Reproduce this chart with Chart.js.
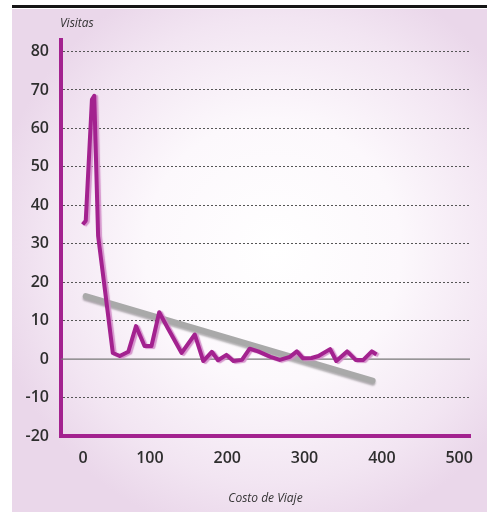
<!DOCTYPE html>
<html>
<head>
<meta charset="utf-8">
<script src="https://cdn.jsdelivr.net/npm/chart.js@4.4.1/dist/chart.umd.min.js"></script>
<style>
  html, body { margin: 0; padding: 0; background: #fff; }
  #panel {
    position: absolute; left: 12px; top: 9px; width: 475px; height: 503px;
    background: radial-gradient(ellipse 60% 58% at 55% 48%, #ffffff 0%, #fcf8fc 45%, #f2e5f2 80%, #ead7ea 100%);
  }
  #barra { position: absolute; left: 12px; top: 5px; width: 475px; height: 3px; background: #161616; }
  #wrap { position: absolute; left: 0; top: 0; width: 487px; height: 512px; }
</style>
</head>
<body>
<div id="barra"></div>
<div id="panel"></div>
<div id="wrap"><canvas id="grafico"></canvas></div>
<script>
// Costo de viaje (eje x) y visitas (eje y)
const costo = [13, 17, 25, 28, 33, 41.5, 52, 61, 72, 82, 93, 102, 112, 123, 141, 158, 169, 180, 188, 199, 208, 219, 229, 240, 256, 268, 281, 290, 298, 309, 318, 333, 341, 355, 366, 376, 387, 393];
const visitas = [35, 36, 67.5, 68.5, 32, 18.5, 1.6, 0.8, 1.9, 8.6, 3.4, 3.4, 12.2, 8.1, 1.6, 6.4, -0.5, 1.9, -0.3, 1.1, -0.5, -0.2, 2.7, 2, 0.6, -0.2, 0.6, 2, 0.2, 0.3, 0.8, 2.6, -0.5, 2, -0.2, -0.2, 2, 1.2];
// Línea de tendencia
const tendX = [17, 388];
const tendY = [16.4, -5.6];
const ticksX = [0, 100, 200, 300, 400, 500];
const ticksY = [-20, -10, 0, 10, 20, 30, 40, 50, 60, 70, 80];

const MAGENTA = '#a3228f';

const sombra = {
  id: 'sombra',
  beforeDatasetDraw(chart, args) {
    const ctx = chart.ctx;
    ctx.save();
    if (args.index === 0) {
      ctx.shadowColor = 'rgba(210,140,200,0.9)';
      ctx.shadowOffsetX = 2;
      ctx.shadowOffsetY = 1;
      ctx.shadowBlur = 1;
    } else {
      ctx.shadowColor = 'rgba(0,0,0,0.3)';
      ctx.shadowOffsetY = 2;
      ctx.shadowBlur = 2;
    }
  },
  afterDatasetDraw(chart) {
    chart.ctx.restore();
  }
};

// linea del cero y texto "Visitas"
const extras = {
  id: 'extras',
  beforeDatasetsDraw(chart) {
    const ctx = chart.ctx;
    const y = chart.scales.y.getPixelForValue(0);
    ctx.save();
    ctx.strokeStyle = '#777';
    ctx.lineWidth = 1.2;
    ctx.beginPath();
    ctx.moveTo(chart.chartArea.left, y);
    ctx.lineTo(chart.chartArea.right, y);
    ctx.stroke();
    ctx.restore();
  },
  afterDraw(chart) {
    const ctx = chart.ctx;
    ctx.save();
    ctx.fillStyle = '#333';
    ctx.font = 'italic 12px "Open Sans"';
    ctx.textBaseline = 'middle';
    ctx.fillText('Visitas', 60, 24);
    ctx.restore();
  }
};

new Chart(document.getElementById('grafico'), {
  type: 'line',
  data: {
    datasets: [{
      data: costo.map((c, i) => ({x: c, y: visitas[i]})),
      borderColor: MAGENTA,
      borderWidth: 4,
      pointRadius: 0,
      tension: 0,
      borderJoinStyle: 'round'
    }, {
      data: tendX.map((c, i) => ({x: c, y: tendY[i]})),
      borderColor: '#a9a9a9',
      borderWidth: 6,
      borderCapStyle: 'round',
      pointRadius: 0
    }]
  },
  options: {
    responsive: true,
    maintainAspectRatio: false,
    animation: false,
    layout: { padding: { top: 40, right: 17, left: 0, bottom: 0 } },
    plugins: { legend: { display: false }, tooltip: { enabled: false } },
    scales: {
      x: {
        type: 'linear',
        min: -15,
        max: 514,
        afterBuildTicks: s => { s.ticks = ticksX.map(v => ({value: v})); },
        afterFit: s => { s.height = 76; },
        grid: { display: false, drawTicks: false },
        border: { color: MAGENTA, width: 4 },
        ticks: {
          padding: 13,
          color: '#2e2e2e',
          font: { family: 'Open Sans', size: 16, weight: '600' },
          // el "0" del original está corrido a la derecha
          callback: v => v === 0 ? '     0' : String(v)
        },
        title: {
          display: true,
          text: 'Costo de Viaje',
          color: '#333',
          font: { family: 'Open Sans', size: 12, style: 'italic' },
          padding: { top: 0, bottom: 6 }
        }
      },
      y: {
        min: -20,
        max: 83,
        afterBuildTicks: s => { s.ticks = ticksY.map(v => ({value: v})); },
        afterFit: s => { s.width = 61; },
        grid: {
          drawTicks: false,
          lineWidth: 1,
          color: c => (c.tick && (c.tick.value === 0 || c.tick.value === -20)) ? 'rgba(0,0,0,0)' : '#555'
        },
        border: { color: MAGENTA, width: 4, dash: [2, 2] },
        ticks: {
          padding: 12,
          color: '#2e2e2e',
          font: { family: 'Open Sans', size: 16, weight: '600' }
        }
      }
    }
  },
  plugins: [sombra, extras]
});
</script>
</body>
</html>
